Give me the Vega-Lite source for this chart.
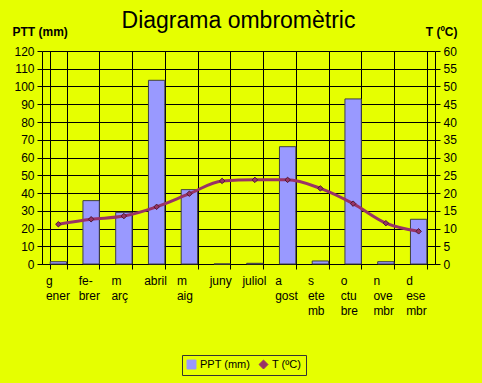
{
  "$schema": "https://vega.github.io/schema/vega-lite/v6.json",
  "width": 393,
  "height": 213,
  "autosize": {"type": "none"},
  "padding": {"left": 42, "top": 51, "right": 47, "bottom": 119},
  "background": "#e6ff00",
  "config": {
    "view": {"stroke": null},
    "font": "Liberation Sans",
    "axis": {"labelFont": "Liberation Sans", "titleFont": "Liberation Sans", "labelColor": "#000000", "titleColor": "#000000", "domainColor": "#000000", "tickColor": "#000000", "gridColor": "#000000", "gridOpacity": 1, "labelFontSize": 12, "tickSize": 5, "labelPadding": 3}
  },
  "title": {"text": "Diagrama ombromètric", "font": "Liberation Sans", "fontSize": 23, "fontWeight": "normal", "color": "#000000", "anchor": "middle", "baseline": "alphabetic", "offset": -26},
  "data": {
    "values": [
      {"mes": "gener", "ppt": 1.3, "t": 11.2},
      {"mes": "febrer", "ppt": 35.7, "t": 12.6},
      {"mes": "març", "ppt": 29.1, "t": 13.5},
      {"mes": "abril", "ppt": 103.5, "t": 16.1},
      {"mes": "maig", "ppt": 41.9, "t": 19.8},
      {"mes": "juny", "ppt": 0, "t": 23.4},
      {"mes": "juliol", "ppt": 0.4, "t": 23.7},
      {"mes": "agost", "ppt": 66.1, "t": 23.7},
      {"mes": "setembre", "ppt": 1.7, "t": 21.3},
      {"mes": "octubre", "ppt": 93, "t": 17},
      {"mes": "novembre", "ppt": 1.3, "t": 11.5},
      {"mes": "desembre", "ppt": 25.2, "t": 9.2}
    ]
  },
  "encoding": {
    "x": {
      "field": "mes", "type": "nominal", "sort": null,
      "scale": {"paddingInner": 0.5, "paddingOuter": 0.25},
      "axis": {
        "title": null, "grid": true, "tickBand": "extent", "labelAngle": 0, "labelColor": "#000000",
        "labelAlign": "left", "labelBaseline": "top", "labelOffset": -13, "labelPadding": 6, "labelLineHeight": 15, "labelFontSize": 12,
        "labelExpr": "{'gener':['g','ener'],'febrer':['fe-','brer'],'març':['m','arç'],'abril':'abril','maig':['m','aig'],'juny':'juny','juliol':'juliol','agost':['a','gost'],'setembre':['s','ete','mb'],'octubre':['o','ctu','bre'],'novembre':['n','ove','mbr'],'desembre':['d','ese','mbr']}[datum.value]"
      }
    }
  },
  "layer": [
    {
      "mark": {"type": "bar", "stroke": "#404040", "strokeWidth": 1},
      "encoding": {
        "y": {"field": "ppt", "type": "quantitative", "scale": {"domain": [0, 120], "nice": false},
          "axis": {"title": "PTT (mm)", "titleAngle": 0, "titleX": -30, "titleY": -16, "titleAlign": "left", "titleBaseline": "alphabetic", "titleFontSize": 12, "titleFontWeight": "bold", "values": [0,10,20,30,40,50,60,70,80,90,100,110,120], "grid": true}},
        "color": {"datum": "PPT (mm)", "type": "nominal",
          "scale": {"domain": ["PPT (mm)", "T (ºC)"], "range": ["#9999ff", "#993366"]},
          "legend": {
            "title": null, "orient": "none", "legendX": 140, "legendY": 304, "direction": "horizontal", "columns": 2,
            "fillColor": "#e6ff00", "strokeColor": "#333333", "padding": 4, "labelFontSize": 11, "labelFont": "Liberation Sans", "labelColor": "#000000", "columnPadding": 6, "symbolSize": 80, "labelOffset": 3,
            "symbolStrokeColor": "#333333", "symbolStrokeWidth": 1, "symbolOpacity": 1
          }}
      }
    },
    {
      "encoding": {
        "y": {"field": "t", "type": "quantitative", "scale": {"domain": [0, 60], "nice": false},
          "axis": {"orient": "right", "title": "T (ºC)", "titleAngle": 0, "titleX": 22, "titleY": -16, "titleAlign": "right", "titleBaseline": "alphabetic", "titleFontSize": 12, "titleFontWeight": "bold", "values": [0,5,10,15,20,25,30,35,40,45,50,55,60], "grid": false}},
        "color": {"datum": "T (ºC)", "type": "nominal"}
      },
      "layer": [
        {
          "mark": {"type": "line", "interpolate": "monotone", "strokeWidth": 3}
        },
        {
          "mark": {"type": "point", "filled": true, "size": 30, "stroke": "#4d1a33", "strokeWidth": 1, "opacity": 1},
          "encoding": {
            "shape": {"datum": "T (ºC)", "type": "nominal",
              "scale": {"domain": ["PPT (mm)", "T (ºC)"], "range": ["square", "diamond"]}}
          }
        }
      ]
    }
  ],
  "resolve": {"scale": {"y": "independent"}}
}
